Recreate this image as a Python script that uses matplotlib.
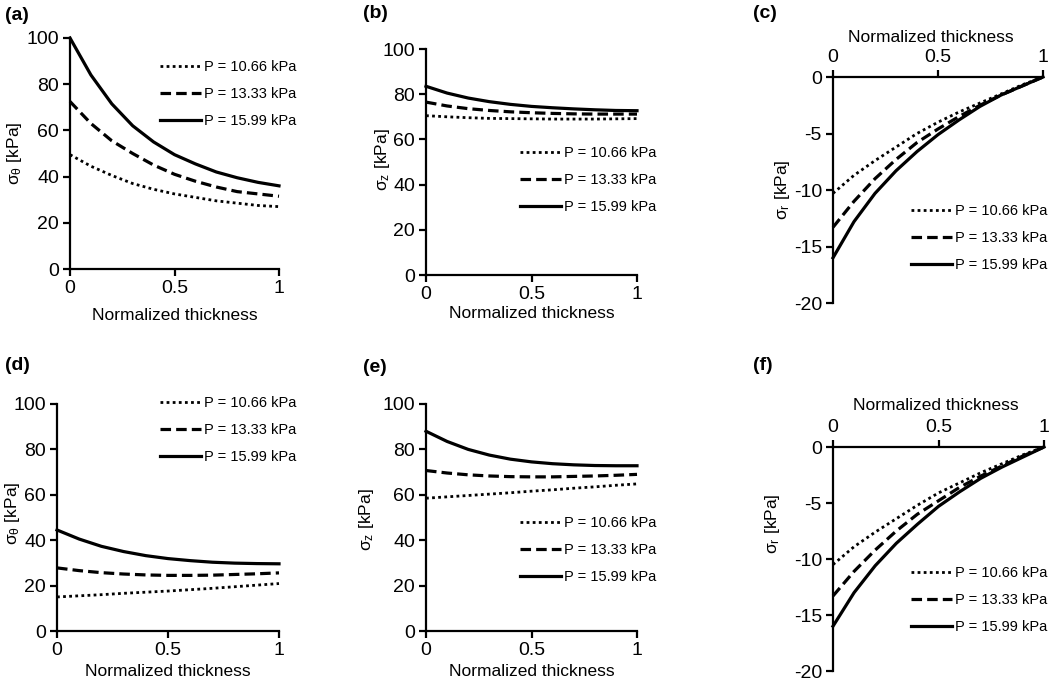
import matplotlib
matplotlib.use("Agg")
import matplotlib.pyplot as plt

plt.rcParams['font.family'] = ['Liberation Sans', 'DejaVu Sans']
plt.rcParams['mathtext.fontset'] = 'custom'
plt.rcParams['mathtext.rm'] = 'Liberation Sans'
plt.rcParams['mathtext.it'] = 'Liberation Sans:italic'
plt.rcParams['mathtext.bf'] = 'Liberation Sans:bold'

x = [0, 0.1, 0.2, 0.3, 0.4, 0.5, 0.6, 0.7, 0.8, 0.9, 1.0]
labels = ['P = 10.66 kPa', 'P = 13.33 kPa', 'P = 15.99 kPa']

# (a) sigma_theta
a_p1 = [49.5, 44.5, 40.5, 37, 34.5, 32.5, 31, 29.5, 28.5, 27.5, 27]
a_p2 = [72.5, 63, 55.5, 50, 45, 41, 38, 35.5, 33.5, 32.5, 31.5]
a_p3 = [100, 84, 71.5, 62, 55, 49.5, 45.5, 42, 39.5, 37.5, 36]
# (b) sigma_z
b_p1 = [70.5, 70.0, 69.6, 69.3, 69.2, 69.1, 69.0, 69.0, 69.0, 69.1, 69.2]
b_p2 = [76.5, 74.8, 73.6, 72.8, 72.2, 71.8, 71.5, 71.3, 71.2, 71.2, 71.2]
b_p3 = [83.5, 80.5, 78.3, 76.7, 75.5, 74.6, 74.0, 73.5, 73.1, 72.8, 72.7]
# (c) sigma_r
c_p1 = [-10.3, -8.7, -7.4, -6.2, -5.0, -4.0, -3.1, -2.3, -1.5, -0.7, 0]
c_p2 = [-13.3, -11.0, -9.0, -7.3, -5.8, -4.6, -3.5, -2.5, -1.6, -0.8, 0]
c_p3 = [-16.0, -12.8, -10.3, -8.3, -6.6, -5.1, -3.8, -2.6, -1.6, -0.8, 0]
# (d) sigma_theta
d_p1 = [15, 15.5, 16.0, 16.6, 17.1, 17.6, 18.2, 18.8, 19.5, 20.2, 20.9]
d_p2 = [27.8, 26.6, 25.7, 25.1, 24.7, 24.5, 24.5, 24.6, 24.9, 25.2, 25.6]
d_p3 = [44.5, 40.5, 37.3, 35.0, 33.2, 31.9, 31.0, 30.3, 29.9, 29.7, 29.6]
# (e) sigma_z
e_p1 = [58.5, 59.1, 59.7, 60.3, 60.9, 61.6, 62.2, 62.9, 63.5, 64.2, 64.8]
e_p2 = [70.7, 69.6, 68.8, 68.3, 68.0, 67.9, 67.9, 68.1, 68.3, 68.6, 69.0]
e_p3 = [88.0, 83.5, 80.0, 77.5, 75.7, 74.5, 73.7, 73.2, 72.9, 72.8, 72.8]
# (f) sigma_r
f_p1 = [-10.5, -8.9, -7.6, -6.4, -5.2, -4.1, -3.2, -2.3, -1.5, -0.7, 0]
f_p2 = [-13.3, -11.1, -9.2, -7.5, -6.0, -4.8, -3.6, -2.6, -1.7, -0.8, 0]
f_p3 = [-16.0, -13.0, -10.6, -8.6, -6.9, -5.3, -4.0, -2.8, -1.8, -0.9, 0]

W, H = 1050, 682
fig = plt.figure(figsize=(W / 100, H / 100), dpi=100)

def rect(l, t, r, b):
    return [l / W, 1 - b / H, (r - l) / W, (b - t) / H]

def fx(px):
    return px / W

def fy(py):
    return 1 - py / H

styles = [dict(color='black', lw=2.0, linestyle=(0, (1, 1.2))),
          dict(color='black', lw=2.3, linestyle=(0, (3.3, 1.6))),
          dict(color='black', lw=2.3, linestyle='-')]

tick_fs = 14
lab_fs = 12.5
leg_fs = 10.5
letter_fs = 14

def make(r, series, ylim, yticks, ylabel, top, leg_xy, letter, letter_xy,
         xlab_xy, ylab_xy):
    ax = fig.add_axes(rect(*r))
    lines = []
    for ys, st in zip(series, styles):
        ln, = ax.plot(x, ys, clip_on=False, **st)
        lines.append(ln)
    ax.set_xlim(0, 1)
    ax.set_ylim(*ylim)
    ax.set_xticks([0, 0.5, 1])
    ax.set_xticklabels(['0', '0.5', '1'])
    ax.set_yticks(yticks)
    ax.set_yticklabels([str(v) for v in yticks])
    ax.spines['right'].set_visible(False)
    if top:
        ax.spines['bottom'].set_visible(False)
        ax.xaxis.tick_top()
        ax.xaxis.set_label_position('top')
    else:
        ax.spines['top'].set_visible(False)
    for s in ax.spines.values():
        s.set_linewidth(1.6)
    ax.tick_params(direction='out', length=5, width=1.6, labelsize=tick_fs, pad=3)
    ax.set_xlabel('Normalized thickness', fontsize=lab_fs, va='center')
    ax.xaxis.set_label_coords(fx(xlab_xy[0]), fy(xlab_xy[1]), transform=fig.transFigure)
    ax.set_ylabel(ylabel, fontsize=lab_fs, va='center')
    ax.yaxis.set_label_coords(fx(ylab_xy[0]), fy(ylab_xy[1]), transform=fig.transFigure)
    ax.legend(lines, labels, loc='center left',
              bbox_to_anchor=(fx(leg_xy[0]), fy(leg_xy[1])),
              bbox_transform=fig.transFigure, frameon=False,
              fontsize=leg_fs, handlelength=2.8, handletextpad=0.2,
              labelspacing=0.9, borderpad=0, borderaxespad=0)
    fig.text(fx(letter_xy[0]), fy(letter_xy[1]), letter, fontsize=letter_fs,
             fontweight='bold', ha='left', va='center')
    return ax

yl_t = r'$\mathregular{\sigma_{\theta}}$ [kPa]'
yl_z = r'$\mathregular{\sigma_{z}}$ [kPa]'
yl_r = r'$\mathregular{\sigma_{r}}$ [kPa]'

make((70, 38, 279, 269), [a_p1, a_p2, a_p3], (0, 100), [0, 20, 40, 60, 80, 100],
     yl_t, False, (160, 94), '(a)', (5, 15), (175, 315), (15, 153))
make((426, 49, 637, 275), [b_p1, b_p2, b_p3], (0, 100), [0, 20, 40, 60, 80, 100],
     yl_z, False, (520, 180), '(b)', (363, 13), (532, 313), (383, 160))
make((833, 77, 1043, 303), [c_p1, c_p2, c_p3], (-20, 0), [-20, -15, -10, -5, 0],
     yl_r, True, (911, 238), '(c)', (753, 13), (931, 38), (782, 190))
make((57, 404, 279, 631), [d_p1, d_p2, d_p3], (0, 100), [0, 20, 40, 60, 80, 100],
     yl_t, False, (160, 430), '(d)', (5, 365), (168, 672), (12, 513))
make((426, 404, 637, 631), [e_p1, e_p2, e_p3], (0, 100), [0, 20, 40, 60, 80, 100],
     yl_z, False, (520, 550), '(e)', (363, 368), (532, 672), (367, 520))
make((833, 447, 1044, 671), [f_p1, f_p2, f_p3], (-20, 0), [-20, -15, -10, -5, 0],
     yl_r, True, (911, 600), '(f)', (753, 366), (936, 405), (772, 524))

fig.savefig('out.png', dpi=100)
